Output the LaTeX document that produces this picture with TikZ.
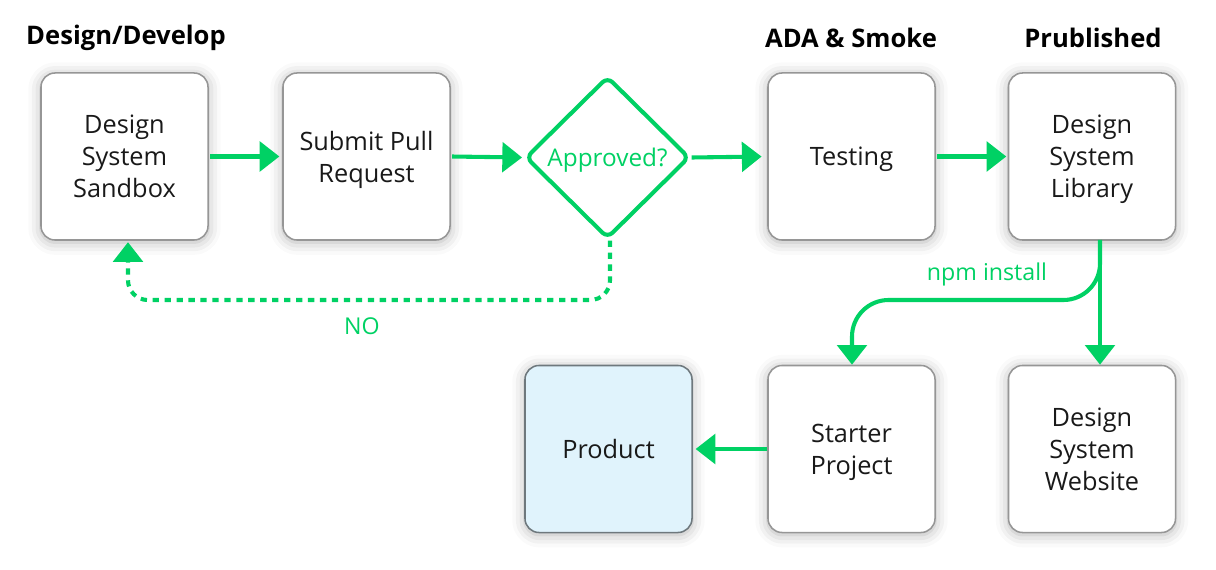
\documentclass[tikz,border=0pt]{standalone}
\usepackage{fontspec}
\setmainfont{Open Sans}
\usetikzlibrary{shapes.geometric,arrows.meta,shadows.blur}
\definecolor{flowgreen}{RGB}{0,209,100}
\definecolor{boxborder}{RGB}{150,150,150}
\definecolor{prodfill}{RGB}{224,243,252}
\definecolor{prodborder}{RGB}{110,120,125}
\tikzset{
  card/.style={draw=boxborder, line width=1.1pt, fill=white, rounded corners=10pt,
    minimum width=4.175cm, minimum height=4.175cm, align=center, text depth=0pt,
    font=\fontsize{18}{22.8}\selectfont, text=black!90,
    blur shadow={shadow xshift=0pt, shadow yshift=-1.5pt, shadow blur radius=9pt, shadow opacity=30}},
  heading/.style={font=\fontsize{18.2}{20}\selectfont\bfseries, text=black},
  flow/.style={draw=flowgreen, line width=2.9pt, -{Triangle[length=14pt,width=21pt]}},
  dotflow/.style={draw=flowgreen, line width=2.9pt, dash pattern=on 4.5pt off 4pt,
    rounded corners=14pt, -{Triangle[length=14pt,width=21pt]}},
  glabel/.style={text=flowgreen, font=\fontsize{16.5}{18}\selectfont}
}
\begin{document}
\begin{tikzpicture}[x=0.025cm, y=-0.025cm]
\useasboundingbox (0,0) rectangle (1216,570);
% headings
\node[heading] (h1) at (126,38) {Design/Develop};
\node[heading] (h2) at (851,38) {ADA \& Smoke};
\node[heading] (h3) at (1093,38) {Prublished};
% row 1
\node[card] (sandbox) at (124.5,156.5) {Design\\System\\Sandbox};
\node[card] (submit) at (366.5,156.5) {Submit Pull\\Request};
\node[draw=flowgreen, line width=2.9pt, shape=diamond, rounded corners=5pt,
  minimum width=4.1cm, minimum height=4.05cm, inner sep=0pt, text=flowgreen, text depth=0pt,
  font=\fontsize{17.3}{18}\selectfont, fill=white] (approved) at (607.5,157.5) {Approved?};
\node[card] (testing) at (851.5,156.5) {Testing};
\node[card] (library) at (1092,156.5) {Design\\System\\Library};
% row 2
\node[card, fill=prodfill, draw=prodborder] (product) at (608.5,449) {Product};
\node[card] (starter) at (851.5,449) {Starter\\Project};
\node[card] (website) at (1092,449) {Design\\System\\Website};
% connectors row 1
\draw[flow, shorten <=1pt, shorten >=2pt] (sandbox.east) -- (submit.west);
\draw[flow, shorten <=1pt, shorten >=1pt] (submit.east) -- (approved.west);
\draw[flow, shorten >=4pt] (approved.east) -- (testing.west);
\draw[flow, shorten <=1pt, shorten >=1pt] (testing.east) -- (library.west);
% NO loop
\coordinate (loopR) at (610,300);
\coordinate (loopL) at (128,300);
\draw[dotflow, shorten >=1pt] (approved.south -| loopR) -- (loopR) -- (loopL) -- (loopL |- sandbox.south);
\node[glabel] (nolabel) at (362,326) {NO};
% library branches
\coordinate (libout) at (1100,240);
\coordinate (branch) at (1100,300);
\coordinate (leftturn) at (852,300);
\draw[flow, rounded corners=26pt] (libout) -- (branch) -- (leftturn) -- (leftturn |- starter.north);
\draw[flow] (libout) -- (libout |- website.north);
\node[glabel] (npm) at (987,274) {npm install};
% row 2 connector
\draw[flow, shorten >=2pt] (starter.west) -- (product.east);
\end{tikzpicture}
\end{document}
